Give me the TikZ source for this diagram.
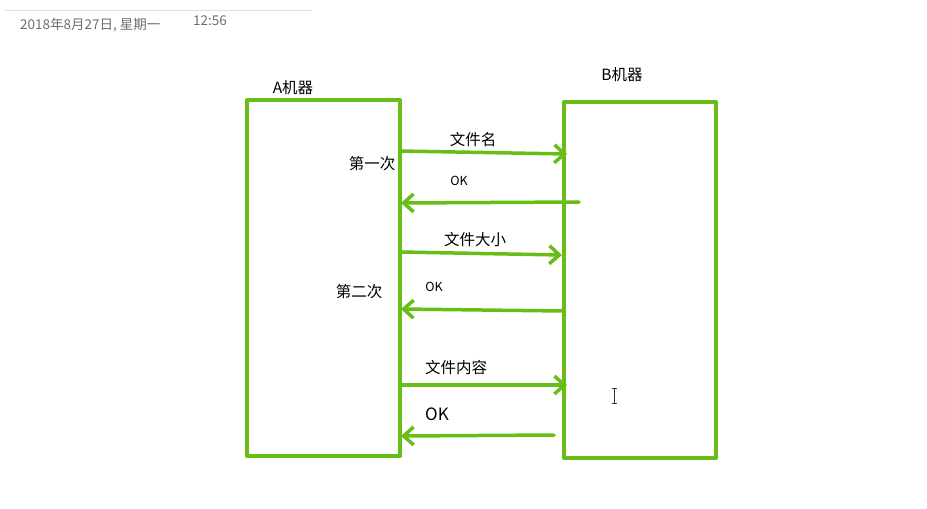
\documentclass[tikz,border=0pt]{standalone}
\usepackage{fontspec}
\setmainfont{Noto Sans CJK SC}
\usetikzlibrary{arrows.meta}
\definecolor{lg}{RGB}{104,190,22}
\definecolor{hdr}{RGB}{110,110,110}
\tikzset{
  box/.style={draw=lg, line width=4pt, line join=round},
  msg/.style={draw=lg, line width=3.5pt, line cap=round, -{Straight Barb[length=10pt,width=18pt,line width=3.5pt]}},
  lbl/.style={font=\fontsize{15.5}{17}\selectfont, inner sep=0pt},
  sml/.style={font=\fontsize{12.5}{14}\selectfont, inner sep=0pt},
  hd/.style={font=\fontsize{13.5}{15}\selectfont, text=hdr, inner sep=0pt}
}
\begin{document}
\begin{tikzpicture}[x=1pt,y=-1pt]
\useasboundingbox[fill=white] (0,0) rectangle (927,509);
% header
\draw[black!12, line width=1pt] (5,10) -- (312,10);
\node[hd, anchor=west] (date) at (20,25) {2018年8月27日, 星期一};
\node[hd, anchor=west] (time) at (193,21) {12:56};
% boxes
\draw[box] (247,100) rectangle (400,456);
\draw[box] (564,102) rectangle (716,458);
\node[lbl] (la) at (293,88) {A机器};
\node[lbl] (lb) at (622,75) {B机器};
\node[lbl] (c1) at (372,164) {第一次};
\node[lbl] (c2) at (359,292) {第二次};
% message endpoints
\coordinate (s1) at (400,151); \coordinate (e1) at (567,154);
\coordinate (s2) at (579,202); \coordinate (e2) at (401,203);
\coordinate (s3) at (400,252); \coordinate (e3) at (562,255);
\coordinate (s4) at (563,311); \coordinate (e4) at (401,309);
\coordinate (s5) at (400,385); \coordinate (e5) at (567,385);
\coordinate (s6) at (554,435); \coordinate (e6) at (401,436);
\draw[msg] (s1) -- (e1);
\draw[msg] (s2) -- (e2);
\draw[msg] (s3) -- (e3);
\draw[msg] (s4) -- (e4);
\draw[msg] (s5) -- (e5);
\draw[msg] (s6) -- (e6);
\node[lbl] (m1) at (473,140) {文件名};
\node[sml] (m2) at (459,181) {OK};
\node[lbl] (m3) at (475,240) {文件大小};
\node[sml] (m4) at (434,287) {OK};
\node[lbl] (m5) at (456,368) {文件内容};
\node[font=\fontsize{17}{19}\selectfont, inner sep=0pt] (m6) at (437,414) {OK};
% text cursor
\draw[black!80, line width=0.8pt] (614,388) -- (614,403) (611.5,388) -- (616.5,388) (611.5,403) -- (616.5,403);
\end{tikzpicture}
\end{document}
